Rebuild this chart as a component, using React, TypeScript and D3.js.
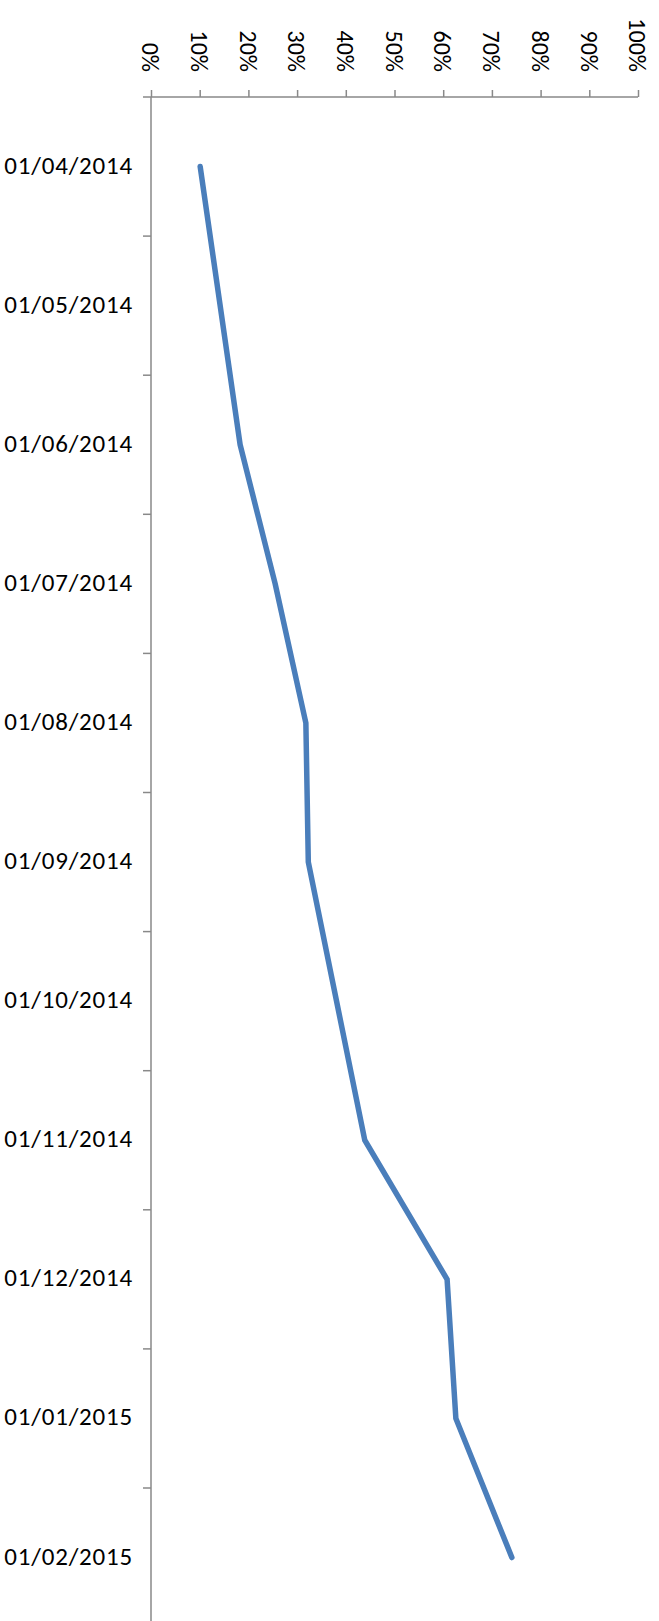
import React, { useRef, useEffect } from "react";
import * as d3 from "d3";

// categories (months) and the progress value at each one
const dates = [
   "01/04/2014",
   "01/05/2014",
   "01/06/2014",
   "01/07/2014",
   "01/08/2014",
   "01/09/2014",
   "01/10/2014",
   "01/11/2014",
   "01/12/2014",
   "01/01/2015",
   "01/02/2015",
];
const progress = [0.101, 0.142, 0.183, 0.255, 0.318, 0.323, 0.381, 0.439, 0.608, 0.626, 0.741];
const pctTicks = [0, 0.1, 0.2, 0.3, 0.4, 0.5, 0.6, 0.7, 0.8, 0.9, 1];

export default function App() {
   const svgRef = useRef<SVGSVGElement>(null);

   useEffect(() => {
      const w = 659;
      const h = 1621;
      const font = "Carlito, Lato, sans-serif";
      const axisColor = "#898989";

      const svg = d3.select(svgRef.current).attr("width", w).attr("height", h);
      svg.selectAll("*").remove();

      // scales
      const x = d3.scaleLinear().domain([0, 1]).range([151, 638]);
      const y = d3
         .scaleBand()
         .domain(dates)
         .range([97, 97 + dates.length * 139.1])
         .padding(0);

      const top = y.range()[0];

      // top percentage axis
      const xAxis = d3
         .axisTop(x)
         .tickValues(pctTicks)
         .tickSize(7)
         .tickSizeOuter(0)
         .tickFormat(() => "");
      const gx = svg.append("g").attr("transform", `translate(0, ${top})`).call(xAxis);
      gx.select(".domain").remove();
      gx.selectAll("line").attr("stroke", axisColor).attr("stroke-width", 1.5);
      gx.append("line")
         .attr("x1", x(0) - 8)
         .attr("x2", x(1))
         .attr("stroke", axisColor)
         .attr("stroke-width", 1.5);

      svg.append("g")
         .selectAll("text")
         .data(pctTicks)
         .join("text")
         .attr("transform", (d) => `translate(${x(d) - 3}, 72) rotate(90)`)
         .attr("text-anchor", "end")
         .attr("dominant-baseline", "middle")
         .style("font-family", font)
         .style("font-size", "24px")
         .attr("fill", "#000")
         .text((d) => d3.format(".0%")(d));

      // left category axis, ticks at band edges
      const gy = svg.append("g");
      gy.append("line")
         .attr("x1", x(0))
         .attr("x2", x(0))
         .attr("y1", top)
         .attr("y2", h)
         .attr("stroke", axisColor)
         .attr("stroke-width", 1.5);
      gy.selectAll(".tick")
         .data(dates.slice(1))
         .join("line")
         .attr("class", "tick")
         .attr("x1", x(0) - 8)
         .attr("x2", x(0))
         .attr("y1", (d) => y(d)!)
         .attr("y2", (d) => y(d)!)
         .attr("stroke", axisColor)
         .attr("stroke-width", 1.5);
      gy.selectAll(".lbl")
         .data(dates)
         .join("text")
         .attr("class", "lbl")
         .attr("x", 133)
         .attr("y", (d) => y(d)! + y.bandwidth() / 2 + 1)
         .attr("text-anchor", "end")
         .attr("dominant-baseline", "middle")
         .style("font-family", font)
         .style("font-size", "25px")
         .style("letter-spacing", "0.8px")
         .attr("fill", "#000")
         .text((d) => d);

      // the progress line
      const line = d3
         .line<number>()
         .x((d) => x(d))
         .y((d, i) => y(dates[i])! + y.bandwidth() / 2);

      svg.append("path")
         .datum(progress)
         .attr("d", line)
         .attr("fill", "none")
         .attr("stroke", "#4a7ebb")
         .attr("stroke-width", 5.5)
         .attr("stroke-linecap", "round")
         .attr("stroke-linejoin", "miter");
   }, []);

   return (
      <div>
         <svg ref={svgRef} style={{ position: "absolute", left: 0, top: 0, background: "#fff" }}></svg>
      </div>
   );
}
